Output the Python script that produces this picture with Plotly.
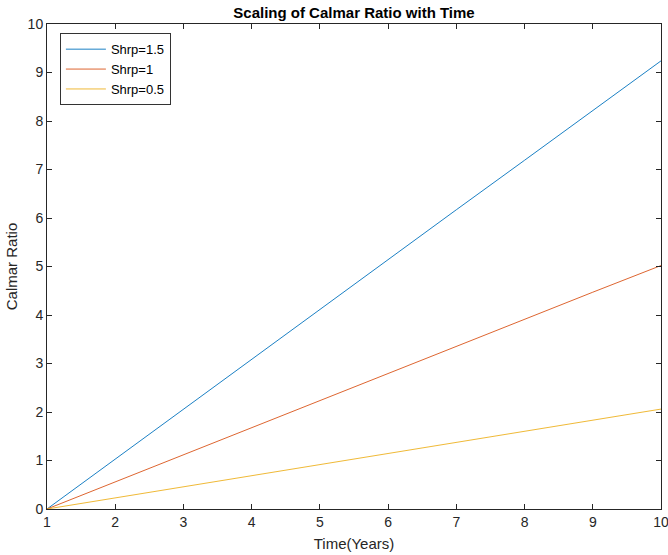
import plotly.graph_objects as go

# Calmar ratio growth over time for three Sharpe ratios
years = [1, 2, 3, 4, 5, 6, 7, 8, 9, 10]
calmar_shrp_15 = [0.0, 1.03, 2.06, 3.08, 4.11, 5.14, 6.17, 7.19, 8.22, 9.24]
calmar_shrp_10 = [0.0, 0.56, 1.12, 1.68, 2.24, 2.79, 3.35, 3.91, 4.47, 5.02]
calmar_shrp_05 = [0.0, 0.23, 0.46, 0.69, 0.92, 1.14, 1.37, 1.60, 1.83, 2.06]

series = [
    ("Shrp=1.5", calmar_shrp_15, "#0072BD"),
    ("Shrp=1", calmar_shrp_10, "#D95319"),
    ("Shrp=0.5", calmar_shrp_05, "#EDB120"),
]

x_ticks = list(range(1, 11))
y_ticks = list(range(0, 11))

FONT = "Liberation Sans, Arial, Helvetica, sans-serif"

fig = go.Figure()
for name, values, color in series:
    fig.add_trace(go.Scatter(
        x=years, y=values, mode="lines", name=name,
        line=dict(color=color, width=0.9),
    ))

axis_common = dict(
    showgrid=False, zeroline=False, automargin=False,
    showline=True, linecolor="#262626", linewidth=1, mirror="ticks",
    ticks="inside", ticklen=5, tickcolor="#262626",
    ticklabeloverflow="allow",
    tickfont=dict(family=FONT, size=14, color="#262626"),
)

fig.update_layout(
    width=668, height=555,
    margin=dict(l=47, r=7, t=24, b=46),
    paper_bgcolor="white", plot_bgcolor="white",
    font=dict(family=FONT, color="#262626"),
    title=dict(
        text="<b>Scaling of Calmar Ratio with Time</b>",
        x=0.5, xref="paper", xanchor="center",
        y=1, yref="container", yanchor="top", pad=dict(t=7),
        font=dict(size=15, color="black"),
    ),
    xaxis=dict(
        range=[1, 10], tickvals=x_ticks,
        title=dict(text="Time(Years)", font=dict(size=15), standoff=9),
        **axis_common,
    ),
    yaxis=dict(
        range=[0, 10], tickvals=y_ticks,
        title=dict(text="Calmar Ratio", font=dict(size=15), standoff=6),
        **axis_common,
    ),
    legend=dict(
        x=0.021, y=0.981, xanchor="left", yanchor="top",
        bgcolor="white", bordercolor="#333333", borderwidth=1,
        font=dict(family=FONT, size=13, color="black"),
        itemwidth=40, tracegroupgap=0,
    ),
)

fig.write_html("out.html")
